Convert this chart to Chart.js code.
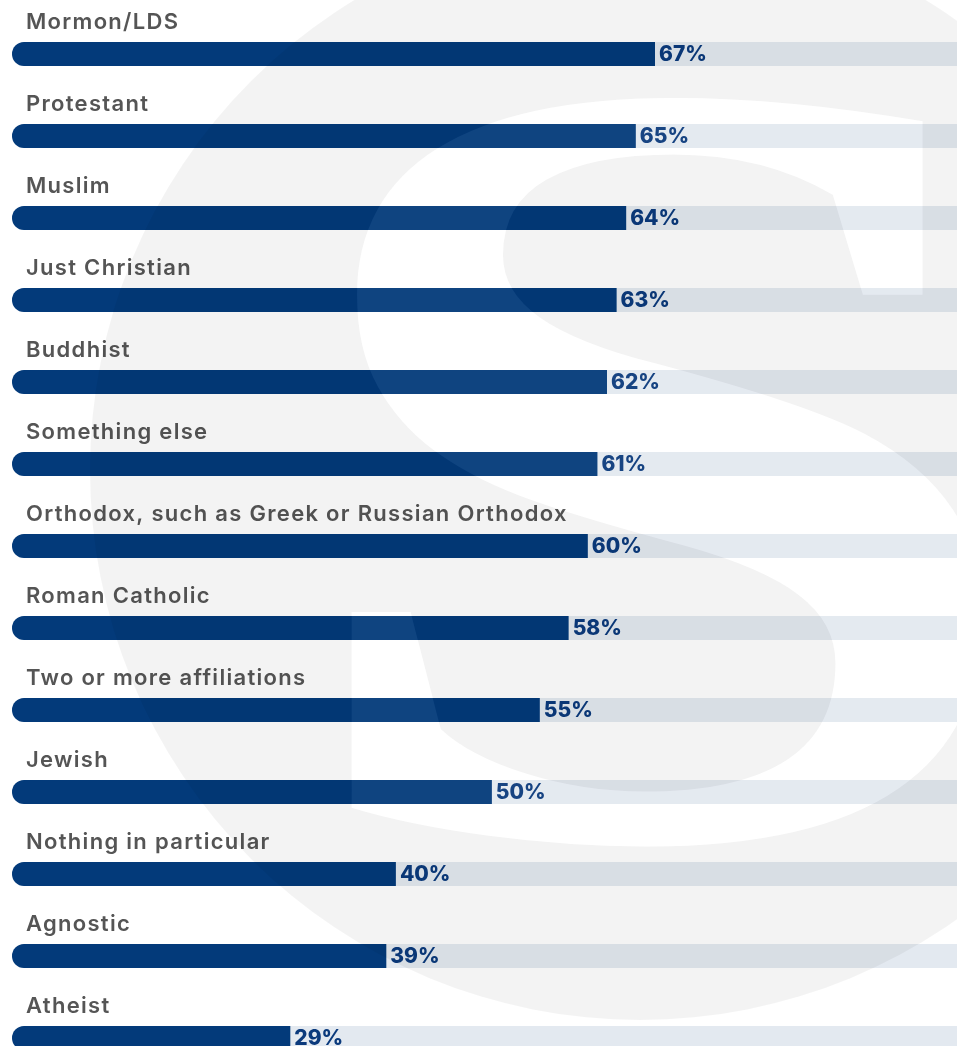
<!DOCTYPE html>
<html lang="en">
<head>
  <meta charset="UTF-8">
  <title>Religious affiliation</title>
  <script src="https://cdn.jsdelivr.net/npm/chart.js"></script>
  <style>
    html, body {
      margin: 0;
      padding: 0;
      background: #ffffff;
      overflow: hidden;
      width: 957px;
      height: 1046px;
    }
    #wrap {
      position: absolute;
      left: 0;
      top: 0;
    }
  </style>
</head>
<body>
  <div id="wrap">
    <canvas id="myChart" width="1000" height="1090"></canvas>
  </div>

  <script>
    // chart data
    const categories = [
      'Mormon/LDS', 'Protestant', 'Muslim', 'Just Christian', 'Buddhist',
      'Something else', 'Orthodox, such as Greek or Russian Orthodox',
      'Roman Catholic', 'Two or more affiliations', 'Jewish',
      'Nothing in particular', 'Agnostic', 'Atheist'
    ];
    const values = [67, 65, 64, 63, 62, 61, 60, 58, 55, 50, 40, 39, 29];
    const trackMax = 100;
    const trackValues = categories.map(() => trackMax);

    const barColor = '#033a7a';
    const trackColor = '#e3e9f0';

    // labels above bars + value labels to the right of bars
    const labelPlugin = {
      id: 'labels',
      afterDatasetsDraw(chart) {
        const ctx = chart.ctx;
        const bars = chart.getDatasetMeta(0).data;
        ctx.save();
        bars.forEach((bar, i) => {
          ctx.fillStyle = '#555555';
          ctx.font = '600 22px Inter, sans-serif';
          ctx.letterSpacing = '1.3px';
          ctx.textAlign = 'left';
          ctx.textBaseline = 'alphabetic';
          ctx.fillText(categories[i], 26, bar.y - 25);

          ctx.fillStyle = '#0b3a7c';
          ctx.font = '800 21px Inter, sans-serif';
          ctx.letterSpacing = '0px';
          ctx.textBaseline = 'middle';
          ctx.fillText(values[i] + '%', bar.x + 4, bar.y + 1);
        });
        ctx.restore();
      }
    };

    // faint "S" logo watermark laid over the chart
    const watermarkPlugin = {
      id: 'watermark',
      afterDraw(chart) {
        const w = chart.width, h = chart.height;
        const off = document.createElement('canvas');
        off.width = w;
        off.height = h;
        const o = off.getContext('2d');

        o.fillStyle = 'rgba(0,0,0,0.047)';
        o.beginPath();
        o.arc(640, 470, 550, 0, Math.PI * 2);
        o.fill();

        o.font = 'bold 1000px "Liberation Serif", serif';
        const m = o.measureText('S');
        const gh = m.actualBoundingBoxAscent + m.actualBoundingBoxDescent;
        const size = 1000 * 766 / gh;
        o.font = 'bold ' + size + 'px "Liberation Serif", serif';
        const m2 = o.measureText('S');
        const sy = 87 + m2.actualBoundingBoxAscent;

        o.save();
        o.translate(343, 0);
        o.scale(1.23, 1);
        o.globalCompositeOperation = 'destination-out';
        o.fillStyle = '#000';
        o.fillText('S', m2.actualBoundingBoxLeft, sy);
        o.globalCompositeOperation = 'source-over';
        o.fillStyle = 'rgba(255,255,255,0.05)';
        o.fillText('S', m2.actualBoundingBoxLeft, sy);
        o.restore();

        chart.ctx.drawImage(off, 0, 0);
      }
    };

    const ctx = document.getElementById('myChart').getContext('2d');
    const chart = new Chart(ctx, {
      type: 'bar',
      data: {
        labels: categories,
        datasets: [
          {
            label: 'Share',
            data: values,
            backgroundColor: barColor,
            borderSkipped: false,
            borderRadius: { topLeft: 12, bottomLeft: 12, topRight: 0, bottomRight: 0 },
            order: 0
          },
          {
            label: 'Track',
            data: trackValues,
            backgroundColor: trackColor,
            borderSkipped: false,
            borderRadius: { topLeft: 12, bottomLeft: 12, topRight: 0, bottomRight: 0 },
            order: 1
          }
        ]
      },
      options: {
        indexAxis: 'y',
        responsive: false,
        animation: false,
        layout: {
          padding: { left: 12, right: 28.3, top: 13, bottom: 11 }
        },
        datasets: {
          bar: {
            grouped: false,
            barThickness: 24,
            inflateAmount: 0
          }
        },
        plugins: {
          legend: { display: false },
          tooltip: { enabled: false }
        },
        scales: {
          x: { display: false, min: 0, max: 100 },
          y: { display: false, offset: true }
        }
      },
      plugins: [labelPlugin, watermarkPlugin]
    });
  </script>
</body>
</html>
